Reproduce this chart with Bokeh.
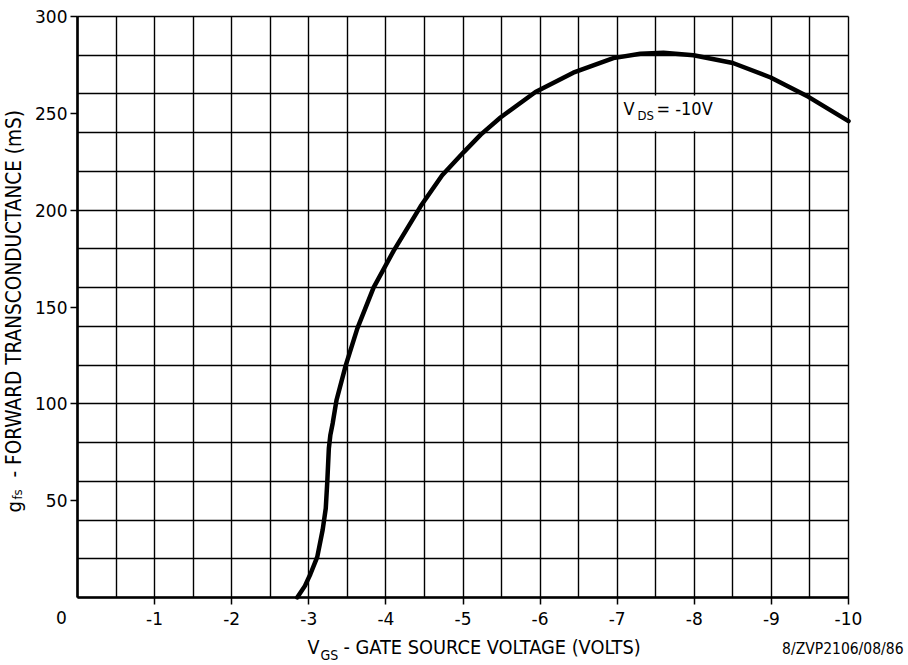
import math
from bokeh.plotting import figure
from bokeh.models import Range1d, FixedTicker, Label
from bokeh.embed import file_html
from bokeh.resources import INLINE

# ---- data ----
vgs = [-2.85, -2.95, -3.02, -3.11, -3.18, -3.22, -3.24, -3.26, -3.28, -3.31, -3.36,
       -3.48, -3.63, -3.84, -4.10, -4.45, -4.73, -5.01, -5.23, -5.49, -5.94,
       -6.43, -6.95, -7.30, -7.60, -7.99, -8.50, -8.99, -9.48, -10.0]
gfs = [0, 6, 12, 21, 35, 46, 60, 77, 84, 90, 102,
       120, 139, 160, 179, 202, 218, 230, 239, 248, 261,
       271, 278.5, 280.8, 281.3, 280, 276, 268.5, 258.5, 246]

x_ticks = [-1, -2, -3, -4, -5, -6, -7, -8, -9, -10]
x_tick_labels = ["-1", "-2", "-3", "-4", "-5", "-6", "-7", "-8", "-9", "-10"]
y_ticks = [50, 100, 150, 200, 250, 300]
x_grid = [-0.5 * i for i in range(0, 21)]
y_grid = [20 * i for i in range(0, 16)]
X_LIMITS = (0, -10)
Y_LIMITS = (0, 300)

TICK_FONT = "DejaVu Sans"
TITLE_FONT = "DejaVu Sans Condensed"

W, H = 908, 665
# plot box in canvas pixels: left 77, right 848, top 16, bottom 597
sx = (848 - 77) / (X_LIMITS[0] - X_LIMITS[1])
sy = (597 - 16) / (Y_LIMITS[1] - Y_LIMITS[0])
xr = Range1d(X_LIMITS[0] + 77 / sx, X_LIMITS[1] - (W - 848) / sx)
yr = Range1d(Y_LIMITS[0] - (H - 597) / sy, Y_LIMITS[1] + 16 / sy)

p = figure(width=W, height=H, x_range=xr, y_range=yr,
           output_backend="svg", toolbar_location=None, min_border=0)
p.background_fill_color = "white"
p.border_fill_color = "white"
p.outline_line_color = None

# grid
p.xgrid.ticker = FixedTicker(ticks=x_grid)
p.ygrid.ticker = FixedTicker(ticks=y_grid)
p.xgrid.cross_bounds = (Y_LIMITS[0], Y_LIMITS[1])
p.ygrid.cross_bounds = (X_LIMITS[1], X_LIMITS[0])
for g in (p.xgrid, p.ygrid):
    g.grid_line_color = "black"
    g.grid_line_alpha = 1.0
    g.grid_line_width = 1.4

# axes, placed at the origin of the data
p.xaxis.fixed_location = Y_LIMITS[0]
p.yaxis.fixed_location = X_LIMITS[0]
p.xaxis.bounds = (X_LIMITS[1], X_LIMITS[0])
p.yaxis.bounds = (Y_LIMITS[0], Y_LIMITS[1])
p.xaxis.ticker = FixedTicker(ticks=x_ticks)
p.xaxis.major_label_overrides = {t: lab for t, lab in zip(x_ticks, x_tick_labels)}
p.yaxis.ticker = FixedTicker(ticks=y_ticks)
for ax in (p.xaxis, p.yaxis):
    ax.axis_line_color = "black"
    ax.axis_line_width = 2.6
    ax.major_tick_line_color = "black"
    ax.major_tick_line_width = 1.5
    ax.major_tick_out = 7
    ax.major_tick_in = 0
    ax.minor_tick_line_color = None
    ax.major_label_text_font = TICK_FONT
    ax.major_label_text_font_size = "17px"
    ax.major_label_text_color = "black"
p.xaxis.major_label_standoff = 7
p.yaxis.major_label_standoff = 3

# white box behind the V_DS label
p.quad(left=[-7.03], right=[-8.44], bottom=[240.8], top=[259.2],
       fill_color="white", line_color=None)

# curve
p.line(vgs, gfs, line_color="black", line_width=4.5, line_join="round", line_cap="round")

def lab(text, x, y, size, font=TITLE_FONT, **kw):
    p.add_layout(Label(text=text, x=x, y=y, x_units="canvas", y_units="canvas",
                       text_font=font, text_font_size=size, text_color="black", **kw))

# V_DS label
lab("V", 623, 118, "18px")
lab("DS", 637, 122, "13px")
lab("= -10V", 656, 118, "18px")

# origin "0"
lab("0", 61, 617, "17px", font=TICK_FONT, text_align="center", text_baseline="middle")

# x title
lab("V", 307, 658, "19.5px")
lab("GS", 320, 662, "14px")
lab("- GATE SOURCE VOLTAGE (VOLTS)", 343, 658, "19.8px")

# footnote
lab("8/ZVP2106/08/86", 903, 657, "15.5px", text_align="right")

# y title (rotated, reads bottom to top)
ang = math.pi / 2
lab("g", 25, 512, "20px", angle=ang)
lab("fs", 24, 499, "13px", angle=ang)
lab("- FORWARD TRANSCONDUCTANCE (mS)", 25, 477, "20.6px", angle=ang)

open("out.html", "w").write(file_html(p, INLINE))
